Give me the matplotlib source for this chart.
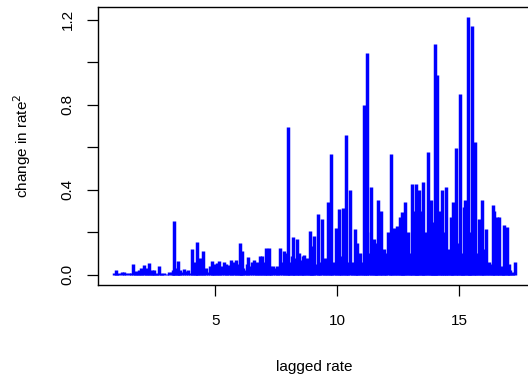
"""
Squared change in rate against the lagged rate.
"""

import matplotlib
matplotlib.use('Agg')
import matplotlib.pyplot as plt

plt.rcParams['font.family'] = ['Liberation Sans', 'DejaVu Sans']

# (lagged rate, squared change) pairs, sorted by lagged rate
lagged_rate = [
    0.84, 0.91, 0.98, 1.05, 1.15, 1.25, 1.35, 1.45, 1.55, 1.62, 1.68, 1.75,
    1.82, 1.88, 1.94, 2.00, 2.08, 2.14, 2.20, 2.26, 2.32, 2.38, 2.43, 2.50,
    2.56, 2.62, 2.69, 2.75, 2.82, 2.90, 3.00, 3.10, 3.20, 3.26, 3.31, 3.36,
    3.41, 3.45, 3.50, 3.55, 3.62, 3.70, 3.78, 3.86, 3.94, 4.03, 4.09, 4.15,
    4.20, 4.25, 4.30, 4.35, 4.42, 4.49, 4.55, 4.62, 4.70, 4.78, 4.85, 4.90,
    4.96, 5.02, 5.08, 5.15, 5.20, 5.28, 5.35, 5.42, 5.48, 5.55, 5.63, 5.68,
    5.75, 5.83, 5.90, 5.96, 6.01, 6.06, 6.10, 6.15, 6.22, 6.28, 6.35, 6.42,
    6.50, 6.60, 6.66, 6.72, 6.80, 6.85, 6.90, 6.96, 7.02, 7.06, 7.12, 7.19,
    7.24, 7.30, 7.38, 7.45, 7.52, 7.58, 7.67, 7.72, 7.80, 7.86, 7.92, 7.97,
    8.02, 8.08, 8.13, 8.19, 8.24, 8.28, 8.33, 8.38, 8.45, 8.50, 8.55, 8.60,
    8.65, 8.70, 8.76, 8.82, 8.87, 8.92, 8.97, 9.02, 9.06, 9.12, 9.20, 9.25,
    9.30, 9.39, 9.44, 9.50, 9.56, 9.64, 9.70, 9.76, 9.80, 9.86, 9.94, 10.00,
    10.06, 10.10, 10.16, 10.22, 10.28, 10.34, 10.40, 10.46, 10.54, 10.59,
    10.65, 10.71, 10.76, 10.80, 10.86, 10.92, 10.98, 11.04, 11.10, 11.15,
    11.20, 11.24, 11.30, 11.37, 11.42, 11.50, 11.55, 11.60, 11.65, 11.69,
    11.74, 11.80, 11.85, 11.90, 11.96, 12.02, 12.10, 12.15, 12.21, 12.26,
    12.32, 12.38, 12.44, 12.50, 12.56, 12.60, 12.65, 12.70, 12.75, 12.80,
    12.85, 12.92, 12.98, 13.03, 13.08, 13.13, 13.18, 13.22, 13.27, 13.32,
    13.37, 13.42, 13.46, 13.52, 13.57, 13.62, 13.67, 13.74, 13.79, 13.84,
    13.88, 13.93, 13.98, 14.03, 14.06, 14.08, 14.13, 14.20, 14.25, 14.31,
    14.36, 14.40, 14.45, 14.50, 14.56, 14.62, 14.67, 14.71, 14.76, 14.81,
    14.86, 14.91, 14.96, 15.02, 15.07, 15.13, 15.17, 15.21, 15.26, 15.31,
    15.36, 15.41, 15.46, 15.50, 15.54, 15.60, 15.66, 15.70, 15.76, 15.83,
    15.88, 15.95, 15.99, 16.04, 16.11, 16.16, 16.22, 16.28, 16.33, 16.37,
    16.42, 16.47, 16.54, 16.58, 16.65, 16.70, 16.76, 16.80, 16.85, 16.90,
    16.95, 17.00, 17.05, 17.10, 17.15, 17.22, 17.29,
]
change_sq = [
    0.010, 0.022, 0.005, 0.008, 0.015, 0.012, 0.008, 0.006, 0.010, 0.050, 0.005, 0.018,
    0.012, 0.020, 0.030, 0.010, 0.045, 0.020, 0.030, 0.055, 0.012, 0.020, 0.008, 0.020,
    0.010, 0.005, 0.040, 0.008, 0.004, 0.006, 0.003, 0.012, 0.015, 0.020, 0.254, 0.010,
    0.030, 0.065, 0.015, 0.020, 0.012, 0.025, 0.018, 0.020, 0.010, 0.120, 0.030, 0.060,
    0.040, 0.155, 0.030, 0.080, 0.050, 0.110, 0.020, 0.030, 0.015, 0.040, 0.066, 0.020,
    0.050, 0.030, 0.055, 0.066, 0.030, 0.040, 0.058, 0.050, 0.030, 0.045, 0.070, 0.040,
    0.060, 0.070, 0.030, 0.050, 0.148, 0.040, 0.113, 0.030, 0.020, 0.050, 0.082, 0.040,
    0.060, 0.070, 0.030, 0.060, 0.050, 0.088, 0.088, 0.030, 0.060, 0.124, 0.050, 0.127,
    0.040, 0.020, 0.040, 0.030, 0.040, 0.020, 0.127, 0.060, 0.110, 0.050, 0.100, 0.694,
    0.030, 0.060, 0.090, 0.179, 0.040, 0.080, 0.170, 0.060, 0.100, 0.030, 0.070, 0.090,
    0.095, 0.040, 0.080, 0.050, 0.207, 0.060, 0.135, 0.040, 0.180, 0.050, 0.285, 0.020,
    0.060, 0.262, 0.030, 0.080, 0.040, 0.341, 0.050, 0.567, 0.030, 0.060, 0.218, 0.050,
    0.308, 0.020, 0.090, 0.316, 0.100, 0.660, 0.060, 0.020, 0.400, 0.010,
    0.060, 0.216, 0.060, 0.150, 0.060, 0.100, 0.040, 0.060, 0.798, 0.080,
    0.200, 1.043, 0.100, 0.412, 0.060, 0.170, 0.080, 0.150, 0.040, 0.352,
    0.060, 0.300, 0.040, 0.120, 0.100, 0.060, 0.200, 0.050, 0.567, 0.080,
    0.220, 0.060, 0.230, 0.080, 0.273, 0.060, 0.295, 0.100, 0.250, 0.341,
    0.050, 0.200, 0.020, 0.100, 0.426, 0.120, 0.300, 0.426, 0.060, 0.150,
    0.400, 0.100, 0.300, 0.438, 0.050, 0.200, 0.080, 0.580, 0.100, 0.353,
    0.060, 0.250, 0.040, 1.087, 0.200, 0.940, 0.080, 0.300, 0.060, 0.400,
    0.100, 0.200, 0.412, 0.050, 0.120, 0.080, 0.273, 0.100, 0.341, 0.080,
    0.596, 0.050, 0.150, 0.850, 0.060, 0.100, 0.050, 0.320, 0.350, 0.100,
    1.213, 0.050, 0.200, 0.080, 1.169, 0.200, 0.627, 0.020, 0.100, 0.260,
    0.060, 0.352, 0.040, 0.120, 0.216, 0.020, 0.060, 0.030, 0.050, 0.328,
    0.300, 0.080, 0.273, 0.060, 0.273, 0.020, 0.040, 0.030, 0.232, 0.050,
    0.225, 0.020, 0.050, 0.020, 0.015, 0.010, 0.060,
]

x_ticks = [5, 10, 15]
y_ticks = [0.0, 0.2, 0.4, 0.6, 0.8, 1.0, 1.2]
y_tick_labels = ['0.0', '', '0.4', '', '0.8', '', '1.2']

fig = plt.figure(figsize=(5.28, 3.78), dpi=100)
ax = fig.add_axes([0.1856, 0.246, 0.820, 0.736])

# histogram-like spikes from zero, as R's type = "h"
ax.vlines(lagged_rate, 0, change_sq, colors='blue', linewidth=2.5,
          capstyle='butt')

# R-style 4% padding on both axes
xr = max(lagged_rate) - min(lagged_rate)
yr = max(change_sq) - 0.0
ax.set_xlim(min(lagged_rate) - 0.04 * xr, max(lagged_rate) + 0.04 * xr)
ax.set_ylim(0.0 - 0.04 * yr, max(change_sq) + 0.04 * yr)

ax.set_xticks(x_ticks)
ax.set_yticks(y_ticks)
ax.set_yticklabels(y_tick_labels, rotation=90, va='center')
ax.tick_params(axis='both', direction='out', length=8, width=0.9, labelsize=11)
ax.tick_params(axis='x', pad=13)
ax.tick_params(axis='y', pad=9)
for spine in ax.spines.values():
    spine.set_linewidth(1.0)

ax.set_xlabel('lagged rate', fontsize=11, labelpad=23)
ax.set_ylabel('change in rate$^2$', fontsize=11, labelpad=20)

fig.savefig('out.png', dpi=100)
